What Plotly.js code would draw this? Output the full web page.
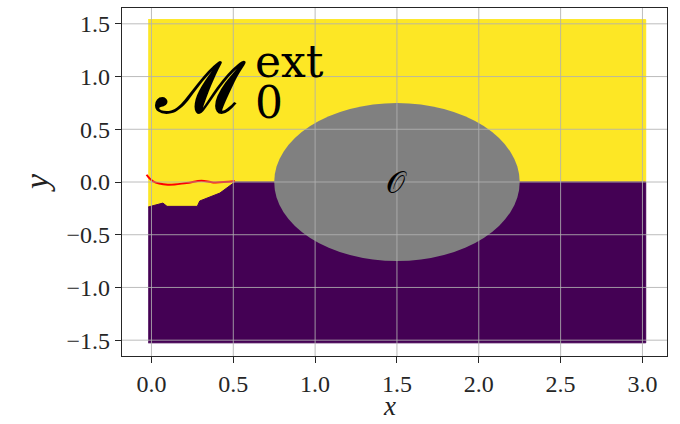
<!DOCTYPE html>
<html>
<head>
<meta charset="utf-8">
<script src="https://cdn.plot.ly/plotly-3.0.1.min.js"></script>
<style>html,body{margin:0;padding:0;background:#fff;}</style>
</head>
<body>
<div id="chart" style="width:680px;height:424px;"></div>
<script>
// Tick positions and labels
const xTickVals = [0, 0.5, 1, 1.5, 2, 2.5, 3];
const xTickText = ['0.0', '0.5', '1.0', '1.5', '2.0', '2.5', '3.0'];
const yTickVals = [-1.5, -1, -0.5, 0, 0.5, 1, 1.5];
const yTickText = ['\u22121.5', '\u22121.0', '\u22120.5', '0.0', '0.5', '1.0', '1.5'];
const xLabel = 'x';
const yLabel = 'y';

// Boundary between the two regions (left to right)
const boundaryX = [-0.02, 0.07, 0.095, 0.28, 0.295, 0.418, 0.51, 3.02];
const boundaryY = [-0.237, -0.2, -0.231, -0.231, -0.18, -0.105, 0, 0];
// Outer extents of the regions
const regionLeft = -0.02;
const regionRight = 3.02;
const regionTop = 1.54;
const regionBottom = -1.525;

// Red curve
const redX = [-0.03, 0.01, 0.10, 0.214, 0.306, 0.377, 0.51];
const redY = [0.069, 0.006, -0.026, -0.009, 0.012, -0.004, 0.006];

// Obstacle (grey disc)
const obstacleCenter = [1.5, 0];
const obstacleRadius = 0.75;

// Build region polygons from the arrays
const yellowX = boundaryX.concat([regionRight, regionLeft]);
const yellowY = boundaryY.concat([regionTop, regionTop]);
const purpleX = boundaryX.concat([regionRight, regionLeft]);
const purpleY = boundaryY.concat([regionBottom, regionBottom]);

const traces = [
  {x: yellowX, y: yellowY, type: 'scatter', mode: 'lines', fill: 'toself',
   fillcolor: '#fde725', line: {color: '#fde725', width: 1}, hoverinfo: 'skip', showlegend: false},
  {x: purpleX, y: purpleY, type: 'scatter', mode: 'lines', fill: 'toself',
   fillcolor: '#440154', line: {color: '#440154', width: 1}, hoverinfo: 'skip', showlegend: false},
  {x: redX, y: redY, type: 'scatter', mode: 'lines',
   line: {color: '#ff0000', width: 2, shape: 'spline'}, hoverinfo: 'skip', showlegend: false}
];

const shapes = [{
  type: 'circle', xref: 'x', yref: 'y', layer: 'above',
  x0: obstacleCenter[0] - obstacleRadius, x1: obstacleCenter[0] + obstacleRadius,
  y0: obstacleCenter[1] - obstacleRadius, y1: obstacleCenter[1] + obstacleRadius,
  fillcolor: '#808080', line: {width: 0}
}];
const gridColor = 'rgba(176,176,176,0.85)';
xTickVals.forEach(v => shapes.push({type: 'line', xref: 'x', yref: 'paper', layer: 'above',
  x0: v, x1: v, y0: 0, y1: 1, line: {color: gridColor, width: 1}}));
yTickVals.forEach(v => shapes.push({type: 'line', xref: 'paper', yref: 'y', layer: 'above',
  x0: 0, x1: 1, y0: v, y1: v, line: {color: gridColor, width: 1}}));

const tickFont = {family: 'Liberation Serif, DejaVu Serif, serif', size: 24, color: '#262626'};
const labelFont = {family: 'DejaVu Serif, serif', size: 44, color: '#000'};
const axisTitleFont = {family: 'Liberation Serif, DejaVu Serif, serif', size: 27, color: '#222'};

const layout = {
  width: 680, height: 424,
  margin: {l: 122, r: 13, t: 8, b: 68},
  paper_bgcolor: '#ffffff', plot_bgcolor: '#ffffff',
  xaxis: {
    range: [-0.18, 3.15], tickvals: xTickVals, ticktext: xTickText,
    showgrid: false, zeroline: false, showline: true, mirror: true,
    linecolor: '#262626', linewidth: 1.2, ticks: 'outside', ticklen: 6, tickcolor: '#262626',
    tickfont: tickFont, automargin: false
  },
  yaxis: {
    range: [-1.65, 1.65], tickvals: yTickVals, ticktext: yTickText,
    showgrid: false, zeroline: false, showline: true, mirror: true,
    linecolor: '#262626', linewidth: 1.2, ticks: 'outside', ticklen: 6, tickcolor: '#262626',
    tickfont: tickFont, automargin: false
  },
  shapes: shapes,
  annotations: [
    {x: 0.49, y: -0.099, xref: 'paper', yref: 'paper', xanchor: 'center', yanchor: 'top', borderpad: 0,
     text: '<i>' + xLabel + '</i>', showarrow: false, font: axisTitleFont},
    {x: -0.158, y: 0.5, xref: 'paper', yref: 'paper', xanchor: 'center', yanchor: 'middle', textangle: -90,
     text: '<i>' + yLabel + '</i>', showarrow: false, font: {family: 'Liberation Serif, DejaVu Serif, serif', size: 34, color: '#222'}},
    {x: 0.3, y: 0.9, xref: 'x', yref: 'y', text: '\ud835\udcdc', showarrow: false,
     font: {family: 'DejaVu Serif, serif', size: 74, color: '#000'}},
    {x: 0.62, y: 1.14, xref: 'x', yref: 'y', xanchor: 'left', text: 'ext', showarrow: false,
     font: labelFont},
    {x: 0.62, y: 0.75, xref: 'x', yref: 'y', xanchor: 'left', text: '0', showarrow: false,
     font: labelFont},
    {x: obstacleCenter[0], y: obstacleCenter[1], xref: 'x', yref: 'y', text: '\ud835\udcaa', showarrow: false,
     font: {family: 'DejaVu Serif, serif', size: 30, color: '#000'}}
  ]
};

Plotly.newPlot('chart', traces, layout, {displayModeBar: false, staticPlot: true});
</script>
</body>
</html>
